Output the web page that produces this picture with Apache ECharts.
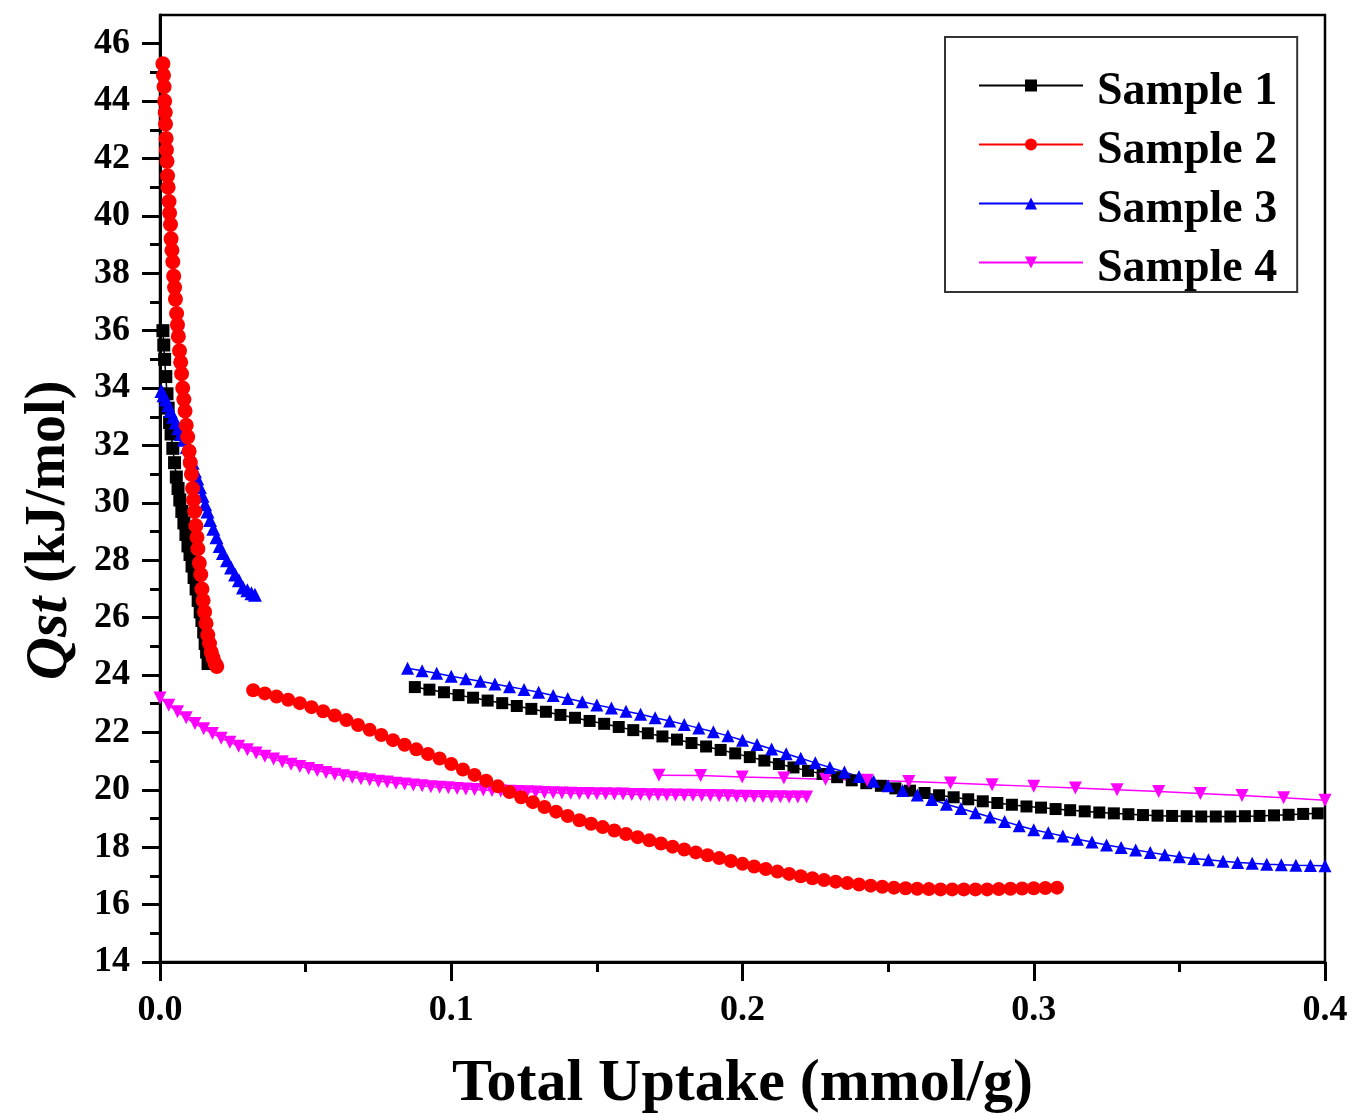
<!DOCTYPE html>
<html>
<head>
<meta charset="utf-8">
<script src="https://cdn.jsdelivr.net/npm/echarts@6/dist/echarts.min.js"></script>
<style>
html,body{margin:0;padding:0;background:#fff;}
#chart{width:1352px;height:1115px;}
</style>
</head>
<body>
<div id="chart"></div>
<script>
// ---------- data ----------
const xTicks = [0, 0.1, 0.2, 0.3, 0.4];
const yMajorTicks = [14,16,18,20,22,24,26,28,30,32,34,36,38,40,42,44,46];
const yMinorTicks = [15,17,19,21,23,25,27,29,31,33,35,37,39,41,43,45];

// Sample 1 (black squares) – low-loading segment
const s1aX = [0.0010,0.0013,0.0016,0.0020,0.0024,0.0028,0.0033,0.0038,0.0044,0.0050,0.0056,0.0062,0.0068,0.0075,0.0082,0.0089,0.0096,0.0103,0.0110,0.0117,0.0124,0.0131,0.0138,0.0144,0.0150,0.0155,0.0160,0.0165];
const s1aY = [36.0,35.5,35.0,34.4,33.8,33.3,32.8,32.4,31.9,31.4,30.9,30.5,30.1,29.7,29.3,28.9,28.5,28.2,27.8,27.4,27.0,26.6,26.2,25.9,25.5,25.1,24.8,24.4];
// Sample 1 – high-loading segment
const s1bX = [0.0875,0.0925,0.0975,0.1025,0.1075,0.1125,0.1175,0.1225,0.1275,0.1325,0.1375,0.1425,0.1475,0.1525,0.1575,0.1625,0.1675,0.1725,0.1775,0.1825,0.1875,0.1925,0.1975,0.2025,0.2075,0.2125,0.2175,0.2225,0.2275,0.2325,0.2375,0.2425,0.2475,0.2525,0.2575,0.2625,0.2675,0.2725,0.2775,0.2825,0.2875,0.2925,0.2975,0.3025,0.3075,0.3125,0.3175,0.3225,0.3275,0.3325,0.3375,0.3425,0.3475,0.3525,0.3575,0.3625,0.3675,0.3725,0.3775,0.3825,0.3875,0.3925,0.3975];
const s1bY = [23.58,23.49,23.40,23.30,23.21,23.11,23.02,22.92,22.82,22.72,22.61,22.51,22.40,22.30,22.19,22.08,21.97,21.86,21.75,21.63,21.51,21.39,21.27,21.14,21.02,20.90,20.78,20.66,20.55,20.44,20.33,20.23,20.14,20.05,19.97,19.89,19.81,19.74,19.67,19.60,19.54,19.48,19.42,19.38,19.33,19.29,19.25,19.21,19.18,19.15,19.12,19.10,19.09,19.08,19.07,19.07,19.07,19.08,19.09,19.11,19.13,19.16,19.18];

// Sample 2 (red circles)
const s2aX = [0.0010,0.0012,0.0014,0.0016,0.0018,0.0019,0.0021,0.0022,0.0024,0.0026,0.0028,0.0031,0.0033,0.0036,0.0038,0.0041,0.0044,0.0047,0.0050,0.0053,0.0057,0.0060,0.0063,0.0067,0.0071,0.0074,0.0078,0.0082,0.0086,0.0090,0.0095,0.0100,0.0104,0.0108,0.0112,0.0115,0.0119,0.0123,0.0127,0.0130,0.0135,0.0140,0.0144,0.0148,0.0153,0.0158,0.0164,0.0170,0.0176,0.0182,0.0189,0.0195];
const s2aY = [45.3,44.9,44.5,44.0,43.6,43.2,42.7,42.3,41.9,41.4,41.0,40.5,40.1,39.7,39.2,38.8,38.4,37.9,37.5,37.1,36.6,36.2,35.8,35.3,34.9,34.5,34.0,33.6,33.2,32.7,32.3,31.8,31.4,31.0,30.5,30.1,29.7,29.2,28.8,28.4,27.9,27.5,27.0,26.6,26.2,25.8,25.4,25.1,24.8,24.6,24.4,24.3];
const s2bX = [0.032,0.036,0.040,0.044,0.048,0.052,0.056,0.060,0.064,0.068,0.072,0.076,0.080,0.084,0.088,0.092,0.096,0.100,0.104,0.108,0.112,0.116,0.120,0.124,0.128,0.132,0.136,0.140,0.144,0.148,0.152,0.156,0.160,0.164,0.168,0.172,0.176,0.180,0.184,0.188,0.192,0.196,0.200,0.204,0.208,0.212,0.216,0.220,0.224,0.228,0.232,0.236,0.240,0.244,0.248,0.252,0.256,0.260,0.264,0.268,0.272,0.276,0.280,0.284,0.288,0.292,0.296,0.300,0.304,0.308];
const s2bY = [23.47,23.36,23.25,23.14,23.02,22.88,22.74,22.59,22.43,22.26,22.09,21.91,21.73,21.57,21.41,21.25,21.09,20.90,20.71,20.52,20.32,20.12,19.92,19.74,19.57,19.40,19.24,19.09,18.94,18.82,18.70,18.58,18.46,18.35,18.24,18.13,18.02,17.92,17.82,17.72,17.62,17.52,17.42,17.33,17.24,17.15,17.07,16.99,16.92,16.86,16.80,16.75,16.70,16.66,16.62,16.59,16.57,16.55,16.54,16.53,16.53,16.53,16.53,16.53,16.54,16.55,16.56,16.57,16.58,16.59];

// Sample 3 (blue triangles)
const s3aX = [0.0005,0.0012,0.0020,0.0028,0.0036,0.0045,0.0054,0.0063,0.0072,0.0082,0.0092,0.0103,0.0112,0.0120,0.0128,0.0137,0.0146,0.0155,0.0163,0.0172,0.0183,0.0194,0.0205,0.0216,0.0230,0.0244,0.0258,0.0271,0.0285,0.0300,0.0314,0.0326];
const s3aY = [33.9,33.75,33.6,33.4,33.2,33.0,32.8,32.6,32.4,32.2,31.95,31.7,31.4,31.1,30.85,30.55,30.25,29.95,29.7,29.4,29.1,28.8,28.5,28.25,28.0,27.75,27.5,27.3,27.05,26.95,26.85,26.8];
const s3bX = [0.085,0.090,0.095,0.100,0.105,0.110,0.115,0.120,0.125,0.130,0.135,0.140,0.145,0.150,0.155,0.160,0.165,0.170,0.175,0.180,0.185,0.190,0.195,0.200,0.205,0.210,0.215,0.220,0.225,0.230,0.235,0.240,0.245,0.250,0.255,0.260,0.265,0.270,0.275,0.280,0.285,0.290,0.295,0.300,0.305,0.310,0.315,0.320,0.325,0.330,0.335,0.340,0.345,0.350,0.355,0.360,0.365,0.370,0.375,0.380,0.385,0.390,0.395,0.400];
const s3bY = [24.24,24.15,24.06,23.96,23.87,23.78,23.69,23.59,23.50,23.40,23.29,23.18,23.07,22.96,22.85,22.74,22.63,22.51,22.40,22.28,22.15,22.02,21.88,21.73,21.58,21.42,21.26,21.10,20.94,20.78,20.62,20.46,20.30,20.14,19.98,19.82,19.66,19.50,19.35,19.20,19.05,18.90,18.75,18.61,18.50,18.39,18.28,18.18,18.08,17.99,17.90,17.82,17.74,17.67,17.61,17.56,17.51,17.47,17.44,17.41,17.39,17.37,17.36,17.35];

// Sample 4 (magenta down-triangles)
const s4aX = [0.000,0.003,0.006,0.009,0.012,0.015,0.018,0.021,0.024,0.027,0.030,0.033,0.036,0.039,0.042,0.045,0.048,0.051,0.054,0.057,0.060,0.063,0.066,0.069,0.072,0.075,0.078,0.081,0.084,0.087,0.090,0.093,0.096,0.099,0.102,0.105,0.108,0.111,0.114,0.117,0.120,0.123,0.126,0.129,0.132,0.135,0.138,0.141,0.144,0.147,0.150,0.153,0.156,0.159,0.162,0.165,0.168,0.171,0.174,0.177,0.180,0.183,0.186,0.189,0.192,0.195,0.198,0.201,0.204,0.207,0.210,0.213,0.216,0.219,0.222];
const s4aY = [23.20,22.95,22.72,22.51,22.31,22.13,21.96,21.80,21.66,21.52,21.40,21.28,21.17,21.07,20.98,20.89,20.81,20.74,20.67,20.60,20.54,20.49,20.44,20.39,20.35,20.30,20.27,20.23,20.20,20.17,20.14,20.11,20.09,20.07,20.05,20.03,20.01,19.99,19.98,19.96,19.95,19.94,19.93,19.92,19.91,19.90,19.89,19.88,19.87,19.87,19.86,19.86,19.85,19.85,19.84,19.84,19.83,19.83,19.82,19.82,19.81,19.81,19.80,19.80,19.79,19.79,19.78,19.78,19.77,19.77,19.76,19.76,19.75,19.75,19.75];
const s4bX = [0.1713,0.1856,0.1999,0.2142,0.2285,0.2428,0.2571,0.2714,0.2857,0.3000,0.3143,0.3286,0.3429,0.3572,0.3715,0.3858,0.4000];
const s4bY = [20.51,20.50,20.45,20.41,20.37,20.33,20.29,20.24,20.18,20.12,20.06,20.00,19.94,19.87,19.80,19.72,19.64];

// ---------- chart ----------
const FONT = 'Liberation Serif';
const pairs = (xs, ys) => xs.map((x, i) => [x, ys[i]]);

const styles = {
  'Sample 1': {color: '#000000', symbol: 'rect', size: 12, rotate: 0},
  'Sample 2': {color: '#ff0000', symbol: 'circle', size: 14, rotate: 0},
  'Sample 3': {color: '#0000ff', symbol: 'triangle', size: 13, rotate: 0},
  'Sample 4': {color: '#ff00ff', symbol: 'triangle', size: 13, rotate: 180}
};

function mk(name, xs, ys, sizeOverride) {
  const st = styles[name];
  return {
    name: name,
    type: 'line',
    data: pairs(xs, ys),
    symbol: st.symbol,
    symbolSize: sizeOverride || st.size,
    symbolRotate: st.rotate,
    showSymbol: true,
    lineStyle: {color: st.color, width: 1.5},
    itemStyle: {color: st.color},
    emphasis: {disabled: true},
    animation: false
  };
}

const series = [
  mk('Sample 1', s1aX, s1aY, 13),
  mk('Sample 1', s1bX, s1bY),
  mk('Sample 4', s4aX, s4aY, 13),
  mk('Sample 4', s4bX, s4bY),
  mk('Sample 3', s3aX, s3aY, 14),
  mk('Sample 3', s3bX, s3bY),
  mk('Sample 2', s2aX, s2aY, 15),
  mk('Sample 2', s2bX, s2bY)
];

const chart = echarts.init(document.getElementById('chart'), null, {renderer: 'canvas'});
chart.setOption({
  backgroundColor: '#ffffff',
  animation: false,
  grid: {
    left: 160, right: 27, top: 15, bottom: 153,
    containLabel: false,
    outerBoundsMode: 'none',
    show: true, borderColor: '#000', borderWidth: 2.5, backgroundColor: 'transparent'
  },
  legend: {
    data: ['Sample 1', 'Sample 2', 'Sample 3', 'Sample 4'],
    orient: 'vertical',
    left: 945, top: 37,
    padding: [19, 20, 0, 33],
    itemGap: 0,
    itemWidth: 104,
    itemHeight: 15,
    borderColor: '#333',
    borderWidth: 2,
    selectedMode: false,
    formatter: '{t|{name}}',
    textStyle: {
      fontFamily: FONT, fontWeight: 'bold', fontSize: 46, color: '#000', lineHeight: 40,
      rich: {
        t: {fontFamily: FONT, fontWeight: 'bold', fontSize: 46, color: '#000', lineHeight: 40, padding: [13, 0, 0, 9]}
      }
    }
  },
  xAxis: {
    type: 'value',
    min: 0, max: 0.4, interval: 0.1,
    name: 'Total Uptake (mmol/g)',
    nameLocation: 'middle',
    nameGap: 92,
    nameTextStyle: {fontFamily: FONT, fontWeight: 'bold', fontSize: 60, color: '#000'},
    axisLine: {show: true, lineStyle: {color: '#000', width: 3}},
    axisTick: {show: true, inside: false, length: 19, lineStyle: {color: '#000', width: 3}},
    minorTick: {show: true, splitNumber: 2, length: 10, lineStyle: {color: '#000', width: 3}},
    axisLabel: {
      margin: 31, fontFamily: FONT, fontWeight: 'bold', fontSize: 36, color: '#000',
      formatter: v => v.toFixed(1)
    },
    splitLine: {show: false}
  },
  yAxis: [
    {
      type: 'value',
      position: 'left',
      min: 14, max: 47, interval: 2,
      name: '{i|Qst} {n|(kJ/mol)}',
      nameLocation: 'middle',
      nameRotate: 90,
      nameGap: 80,
      nameTextStyle: {
        fontFamily: FONT, fontWeight: 'bold', fontSize: 56, color: '#000',
        padding: [0, 84, 0, 0],
        rich: {
          i: {fontFamily: FONT, fontWeight: 'bold', fontStyle: 'italic', fontSize: 60, color: '#000'},
          n: {fontFamily: FONT, fontWeight: 'bold', fontSize: 56, color: '#000'}
        }
      },
      axisLine: {show: true, lineStyle: {color: '#000', width: 3}},
      axisTick: {show: true, inside: false, length: 18, customValues: yMajorTicks, lineStyle: {color: '#000', width: 3}},
      axisLabel: {
        margin: 30, customValues: yMajorTicks,
        fontFamily: FONT, fontWeight: 'bold', fontSize: 36, color: '#000'
      },
      splitLine: {show: false}
    },
    {
      type: 'value',
      position: 'left',
      min: 14, max: 47, interval: 2,
      axisLine: {show: false},
      axisTick: {show: true, inside: false, length: 10, customValues: yMinorTicks, lineStyle: {color: '#000', width: 3}},
      axisLabel: {show: false},
      splitLine: {show: false}
    }
  ],
  series: series
});
</script>
</body>
</html>
